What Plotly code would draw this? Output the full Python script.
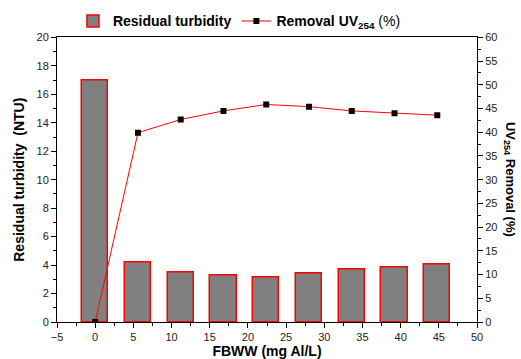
import plotly.graph_objects as go

fbww = [0, 5.6, 11.2, 16.8, 22.4, 28, 33.6, 39.2, 44.8]
turbidity = [17.0, 4.2, 3.47, 3.3, 3.12, 3.4, 3.67, 3.86, 4.02]
removal_uv = [0.0, 39.9, 42.7, 44.5, 45.85, 45.4, 44.5, 44.0, 43.6]

font_family = "Liberation Sans, Arial, sans-serif"

fig = go.Figure()
fig.add_trace(go.Bar(
    x=fbww, y=turbidity, width=3.45,
    name="<b>Residual turbidity</b>",
    marker=dict(color="#808080", line=dict(color="#ff0000", width=1.5)),
    yaxis="y",
))
fig.add_trace(go.Scatter(
    x=fbww, y=removal_uv, mode="lines+markers",
    name="<b>Removal UV<sub>254</sub></b> (%)",
    line=dict(color="#ff0000", width=1),
    marker=dict(symbol="square", color="#000000", size=6),
    yaxis="y2",
))

axis_common = dict(
    showgrid=False, zeroline=False, showline=True, linecolor="#000", linewidth=1,
    ticks="outside", ticklen=5, tickwidth=1, tickcolor="#000", automargin=False,
    tickfont=dict(family=font_family, size=11, color="#222"),
)

fig.update_layout(
    width=521, height=359,
    margin=dict(l=57, r=44, t=35, b=37),
    paper_bgcolor="white", plot_bgcolor="white",
    font=dict(family=font_family, color="#000"),
    bargap=0,
    showlegend=True,
    legend=dict(
        orientation="h", xref="container", yref="container",
        x=0.14, y=0.985, xanchor="left", yanchor="top",
        font=dict(family=font_family, size=14, color="#000"),
        bgcolor="rgba(0,0,0,0)", tracegroupgap=0,
    ),
    xaxis=dict(
        range=[-5, 50], dtick=5, tick0=0, mirror=True,
        minor=dict(dtick=2.5, ticks="outside", ticklen=3, tickcolor="#000"),
        title=dict(text="<b>FBWW (mg Al/L)</b>", font=dict(family=font_family, size=14), standoff=3),
        **axis_common,
    ),
    yaxis=dict(
        range=[0, 20], dtick=2, tick0=0,
        minor=dict(dtick=1, ticks="outside", ticklen=3, tickcolor="#000"),
        title=dict(text="<b>Residual turbidity  (NTU)</b>", font=dict(family=font_family, size=14), standoff=8),
        **axis_common,
    ),
    yaxis2=dict(
        range=[0, 60], dtick=5, tick0=0, overlaying="y", side="right",
        minor=dict(dtick=2.5, ticks="outside", ticklen=3, tickcolor="#000"),
        **axis_common,
    ),
    annotations=[dict(
        text="<b>UV<sub>254</sub> Removal (%)</b>",
        xref="paper", yref="paper", x=1.078, y=0.5, textangle=90,
        showarrow=False, font=dict(family=font_family, size=13, color="#000"),
        xanchor="center", yanchor="middle",
    )],
)

fig.write_html("out.html")
